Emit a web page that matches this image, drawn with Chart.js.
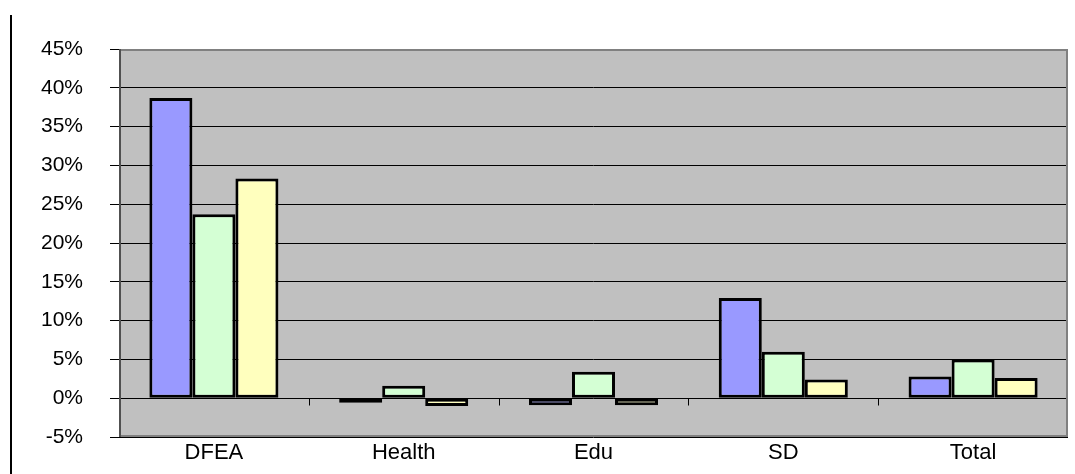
<!DOCTYPE html>
<html>
<head>
<meta charset="utf-8">
<script src="https://cdn.jsdelivr.net/npm/chart.js@4.4.1/dist/chart.umd.min.js"></script>
<style>
  html, body { margin: 0; padding: 0; background: #fff; }
  #wrap { position: relative; width: 1075px; height: 474px; }
  #edge { position: absolute; left: 10px; top: 15px; bottom: 0; width: 2px; background: #000; }
</style>
</head>
<body>
<div id="wrap">
  <div id="edge"></div>
  <canvas id="growthChart" width="1075" height="474"></canvas>
</div>
<script>
// Sectors and the three series (percent change)
const categories = ["DFEA", "Health", "Edu", "SD", "Total"];
const seriesA = [38.7, -0.6, -0.9, 12.9, 2.8];
const seriesB = [23.7, 1.6, 3.4, 6.0, 5.0];
const seriesC = [28.3, -1.0, -0.9, 2.4, 2.6];

const fillColors = ["#9999FF", "#D4FFD4", "#FFFFBE"];

// Grey plot background
const plotBackground = {
  id: "plotBackground",
  beforeDraw(chart) {
    const { ctx, chartArea: a } = chart;
    ctx.save();
    ctx.fillStyle = "#C0C0C0";
    ctx.fillRect(a.left, a.top, a.right - a.left, a.bottom - a.top);
    ctx.restore();
  },
};

// Frame around plot area + category separators on the zero line
const plotFrame = {
  id: "plotFrame",
  beforeDatasetsDraw(chart) {
    const { ctx, chartArea: a, scales } = chart;
    ctx.save();
    ctx.strokeStyle = "#808080";
    ctx.lineWidth = 2;
    ctx.beginPath();
    ctx.moveTo(a.left, a.top + 1);
    ctx.lineTo(a.right - 1, a.top + 1);
    ctx.lineTo(a.right - 1, a.bottom - 1);
    ctx.lineTo(a.left, a.bottom - 1);
    ctx.stroke();
    ctx.strokeStyle = "#505050";
    ctx.beginPath();
    ctx.moveTo(a.left + 1, a.top);
    ctx.lineTo(a.left + 1, a.bottom);
    ctx.stroke();

    const y0 = Math.round(scales.y.getPixelForValue(0)) + 0.5;
    ctx.strokeStyle = "#000";
    ctx.lineWidth = 1;
    ctx.beginPath();
    for (let i = 0; i < categories.length - 1; i++) {
      const x = Math.round((scales.x.getPixelForValue(i) + scales.x.getPixelForValue(i + 1)) / 2) + 0.5;
      ctx.moveTo(x, y0);
      ctx.lineTo(x, y0 + 7);
    }
    ctx.stroke();
    ctx.restore();
  },
};

const ctx = document.getElementById("growthChart").getContext("2d");
const growthChart = new Chart(ctx, {
  type: "bar",
  data: {
    labels: categories,
    datasets: [seriesA, seriesB, seriesC].map((values, i) => ({
      label: "Series " + (i + 1),
      data: values,
      backgroundColor: fillColors[i],
      borderColor: "#000",
      borderWidth: 3,
      borderSkipped: false,
      categoryPercentage: 0.68,
      barPercentage: 1.0,
    })),
  },
  options: {
    responsive: false,
    animation: false,
    layout: { padding: { top: 49, right: 7, left: 0, bottom: 0 } },
    plugins: {
      legend: { display: false },
      tooltip: { enabled: false },
    },
    scales: {
      x: {
        grid: { display: false, drawTicks: false },
        border: { display: false },
        ticks: {
          color: "#000",
          padding: 3,
          font: { family: "Liberation Sans", size: 22 },
        },
        afterFit(scale) {
          scale.height = 37;
        },
      },
      y: {
        min: -5,
        max: 45,
        grid: {
          color: "#000",
          lineWidth: 1,
          tickLength: 9,
        },
        border: { display: false },
        ticks: {
          stepSize: 5,
          padding: 27,
          color: "#000",
          font: { family: "Liberation Sans", size: 21 },
          callback: (v) => v + "%",
        },
        afterFit(scale) {
          scale.width = 119;
          // label padding is horizontal only; don't let it shrink the plot vertically
          scale.paddingTop = 13;
          scale.paddingBottom = 13;
        },
      },
    },
  },
  plugins: [plotBackground, plotFrame],
});
</script>
</body>
</html>
